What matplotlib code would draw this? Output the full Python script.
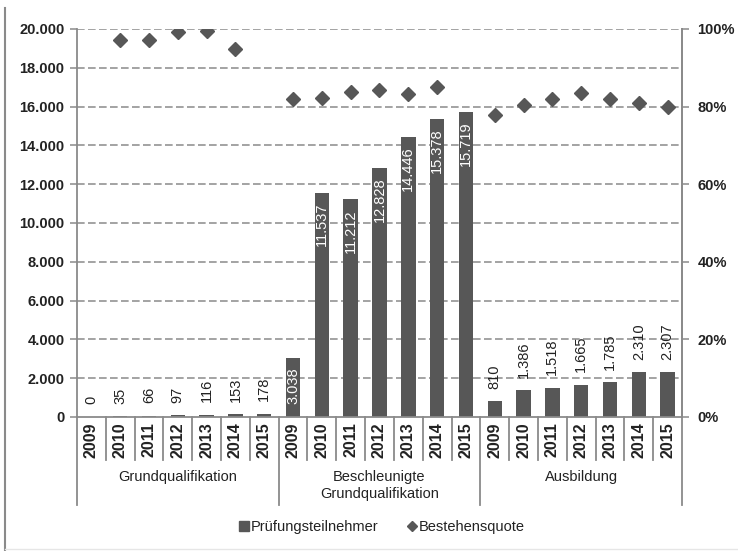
import numpy as np
import matplotlib
matplotlib.use("Agg")
import matplotlib.pyplot as plt
from matplotlib.lines import Line2D
from matplotlib.transforms import blended_transform_factory

plt.rcParams['font.family'] = ['Liberation Sans', 'DejaVu Sans']

groups = ["Grundqualifikation", "Beschleunigte\nGrundqualifikation", "Ausbildung"]
years = ["2009", "2010", "2011", "2012", "2013", "2014", "2015"]

teilnehmer_grund = [0, 35, 66, 97, 116, 153, 178]
teilnehmer_beschl = [3038, 11537, 11212, 12828, 14446, 15378, 15719]
teilnehmer_ausb = [810, 1386, 1518, 1665, 1785, 2310, 2307]

quote_grund = [np.nan, 97.2, 97.1, 99.2, 99.4, 94.8, np.nan]
quote_beschl = [81.9, 82.1, 83.7, 84.2, 83.2, 85.0, np.nan]
quote_ausb = [77.9, 80.5, 81.9, 83.5, 82.0, 80.9, 80.0]

left_ticks = [0, 2000, 4000, 6000, 8000, 10000, 12000, 14000, 16000, 18000, 20000]
right_ticks = [0, 20, 40, 60, 80, 100]

W, H = 738, 551
fig = plt.figure(figsize=(W / 100, H / 100), dpi=100)
ax_l, ax_r, ax_t, ax_b = 77, 682, 29, 417
ax = fig.add_axes([ax_l / W, 1 - ax_b / H, (ax_r - ax_l) / W, (ax_b - ax_t) / H])
ax_h = ax_b - ax_t

teilnehmer = teilnehmer_grund + teilnehmer_beschl + teilnehmer_ausb
quote = quote_grund + quote_beschl + quote_ausb
n = len(teilnehmer)
x = np.arange(n)

bar_color = '#575757'
axis_color = '#8a8a8a'

def fmt(v):
    return f"{v:,}".replace(",", ".")

# grid
for t in left_ticks[1:]:
    ax.axhline(t, color=axis_color, lw=1.1, dashes=(5, 2.2), zorder=0)

ax.bar(x, teilnehmer, width=0.5, color=bar_color, zorder=2)

ax.set_xlim(-0.5, n - 0.5)
ax.set_ylim(0, 20000)
ax.set_yticks(left_ticks)
ax.set_yticklabels([fmt(t) for t in left_ticks], fontsize=10.5, fontweight='bold', color='#222222')
ax.set_xticks([])
ax.tick_params(axis='y', length=5, width=1.1, color=axis_color, pad=4)
for s in ['top']:
    ax.spines[s].set_visible(False)
for s in ['left', 'right', 'bottom']:
    ax.spines[s].set_color(axis_color)
    ax.spines[s].set_linewidth(1.3)

# value labels
for i, v in enumerate(teilnehmer):
    if 7 <= i < 14:
        ax.annotate(fmt(v), (x[i], v), xytext=(0, -7), textcoords='offset points',
                    rotation=90, ha='center', va='top', fontsize=10.5, color='white', zorder=3)
    else:
        ax.annotate(fmt(v), (x[i], v), xytext=(0, 9), textcoords='offset points',
                    rotation=90, ha='center', va='bottom', fontsize=10.5, color='#222222', zorder=3)

# secondary axis: pass rate
ax2 = ax.twinx()
ax2.set_ylim(0, 100)
ax2.set_yticks(right_ticks)
ax2.set_yticklabels([f"{t}%" for t in right_ticks], fontsize=10.5, fontweight='bold', color='#222222')
ax2.tick_params(axis='y', length=5, width=1.1, color=axis_color, pad=6)
for s in ['top', 'left', 'bottom']:
    ax2.spines[s].set_visible(False)
ax2.spines['right'].set_color(axis_color)
ax2.spines['right'].set_linewidth(1.3)
ax2.plot(x, quote, linestyle='none', marker='D', markersize=7.5, color=bar_color, zorder=4)

# category axis: years, separators, group names
trans = blended_transform_factory(ax.transData, ax.transAxes)
for i in range(n):
    ax.text(x[i], -(440 - ax_b) / ax_h, years[i % 7], transform=trans, rotation=90,
            ha='center', va='center', fontsize=11.5, fontweight='bold', color='#222222')
for k in range(n + 1):
    xb = k - 0.5
    depth = (505 - ax_b) if k % 7 == 0 else (460 - ax_b)
    ax.plot([xb, xb], [0, -depth / ax_h], transform=trans, color=axis_color, lw=1.3,
            clip_on=False, zorder=1)
for g, name in enumerate(groups):
    ax.text(g * 7 + 3, -(470 - ax_b) / ax_h, name, transform=trans, ha='center', va='top',
            fontsize=10.5, color='#222222', linespacing=1.25)

# legend
handles = [
    Line2D([], [], linestyle='none', marker='s', markersize=6.5, color=bar_color),
    Line2D([], [], linestyle='none', marker='D', markersize=5, color=bar_color),
]
fig.legend(handles, ["Prüfungsteilnehmer", "Bestehensquote"], loc='center',
           bbox_to_anchor=(382 / W, 1 - 527 / H), ncol=2, frameon=False,
           fontsize=10.5, handlelength=0.6, handletextpad=0.15, columnspacing=2.0,
           labelcolor='#222222')

# outer frame
fig.add_artist(Line2D([5 / W, 5 / W], [0, 1 - 8 / H], transform=fig.transFigure,
                      color='#8a8a8a', lw=1.5))
fig.add_artist(Line2D([5 / W, 1], [2 / H, 2 / H], transform=fig.transFigure,
                      color='#e6e6e6', lw=1.0))

fig.savefig("out.png", dpi=100, facecolor='white')
